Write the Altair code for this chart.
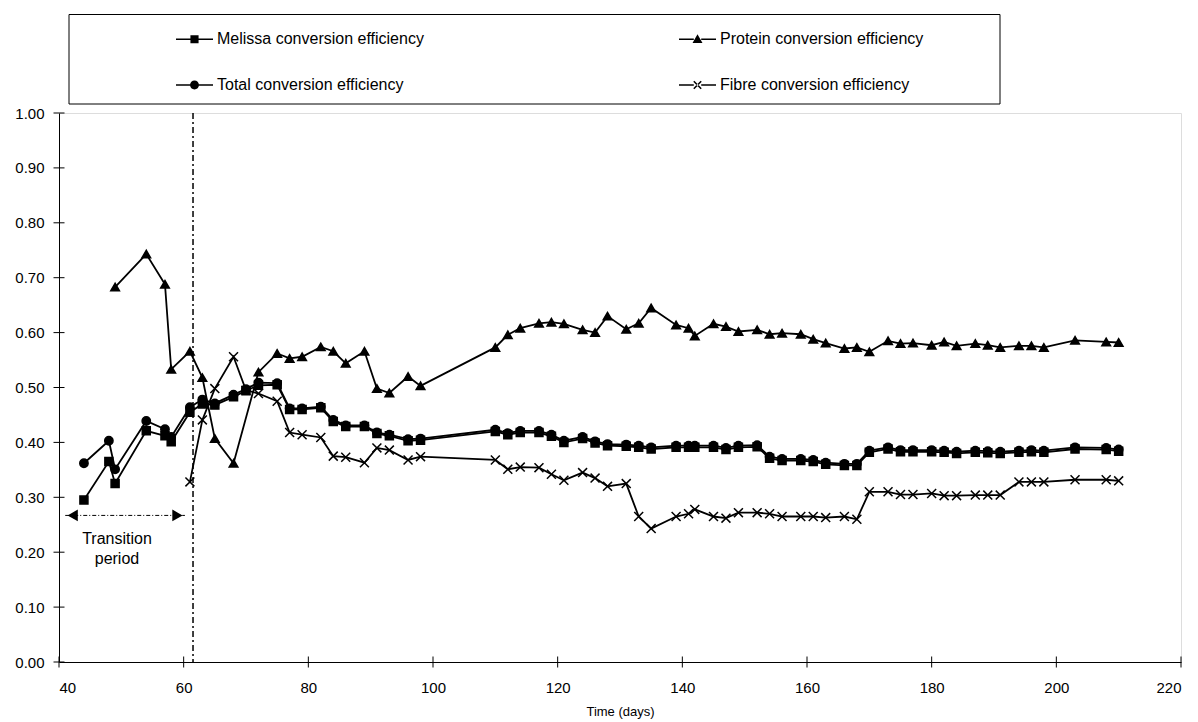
import altair as alt
import pandas as pd

# ---------------- data ----------------
# legend order (column-major): Melissa, Total | Protein, Fibre
series_names = [
    "Melissa conversion efficiency",
    "Total conversion efficiency",
    "Protein conversion efficiency",
    "Fibre conversion efficiency",
]

late_days = [110, 112, 114, 117, 119, 121, 124, 126, 128, 131, 133, 135, 139, 141,
             142, 145, 147, 149, 152, 154, 156, 159, 161, 163, 166, 168, 170, 173,
             175, 177, 180, 182, 184, 187, 189, 191, 194, 196, 198, 203, 208, 210]

melissa_days = [44, 48, 49, 54, 57, 58, 61, 63, 65, 68, 70, 72, 75, 77, 79, 82, 84,
                86, 89, 91, 93, 96, 98] + late_days
melissa_vals = [0.295, 0.365, 0.325, 0.421, 0.412, 0.401, 0.455, 0.470, 0.468, 0.483,
                0.494, 0.504, 0.505, 0.460, 0.460, 0.463, 0.438, 0.429, 0.429, 0.416,
                0.412, 0.403, 0.404,
                0.420, 0.414, 0.418, 0.418, 0.411, 0.400, 0.407, 0.399, 0.394, 0.393,
                0.391, 0.388, 0.391, 0.391, 0.391, 0.391, 0.387, 0.391, 0.392, 0.371,
                0.367, 0.367, 0.365, 0.360, 0.358, 0.358, 0.382, 0.388, 0.383, 0.383,
                0.383, 0.382, 0.380, 0.382, 0.381, 0.380, 0.382, 0.383, 0.382, 0.388,
                0.387, 0.384]

total_days = list(melissa_days)
total_vals = [0.362, 0.403, 0.351, 0.439, 0.424, 0.410, 0.464, 0.478, 0.471, 0.487,
              0.497, 0.509, 0.508, 0.462, 0.462, 0.465, 0.441, 0.431, 0.431, 0.418,
              0.414, 0.406, 0.407,
              0.423, 0.417, 0.421, 0.421, 0.414, 0.403, 0.410, 0.402, 0.397, 0.396,
              0.394, 0.391, 0.394, 0.394, 0.394, 0.394, 0.390, 0.394, 0.395, 0.374,
              0.370, 0.370, 0.368, 0.363, 0.361, 0.361, 0.385, 0.391, 0.386, 0.386,
              0.386, 0.385, 0.383, 0.385, 0.384, 0.383, 0.385, 0.386, 0.385, 0.391,
              0.390, 0.387]

protein_days = [49, 54, 57, 58, 61, 63, 65, 68, 72, 75, 77, 79, 82, 84, 86, 89, 91,
                93, 96, 98] + late_days
protein_vals = [0.683, 0.743, 0.688, 0.533, 0.566, 0.518, 0.407, 0.362, 0.528, 0.562,
                0.553, 0.556, 0.574, 0.566, 0.544, 0.566, 0.498, 0.490, 0.520, 0.503,
                0.573, 0.596, 0.608, 0.617, 0.619, 0.616, 0.605, 0.600, 0.630, 0.606,
                0.617, 0.645, 0.614, 0.608, 0.594, 0.616, 0.611, 0.602, 0.605, 0.597,
                0.599, 0.597, 0.588, 0.581, 0.571, 0.573, 0.565, 0.585, 0.580, 0.581,
                0.577, 0.583, 0.576, 0.580, 0.577, 0.573, 0.576, 0.576, 0.573, 0.586,
                0.583, 0.582]

fibre_days = [61, 63, 65, 68, 70, 72, 75, 77, 79, 82, 84, 86, 89, 91, 93, 96,
              98] + late_days
fibre_vals = [0.328, 0.441, 0.498, 0.556, 0.495, 0.489, 0.475, 0.418, 0.414, 0.409,
              0.375, 0.373, 0.363, 0.390, 0.386, 0.368, 0.374,
              0.368, 0.351, 0.355, 0.354, 0.342, 0.331, 0.345, 0.335, 0.320, 0.325,
              0.265, 0.243, 0.265, 0.270, 0.278, 0.265, 0.262, 0.272, 0.272, 0.270,
              0.265, 0.265, 0.265, 0.263, 0.265, 0.260, 0.310, 0.310, 0.305, 0.305,
              0.307, 0.303, 0.303, 0.304, 0.304, 0.304, 0.328, 0.328, 0.328, 0.332,
              0.332, 0.330]

x_ticks = [40, 60, 80, 100, 120, 140, 160, 180, 200, 220]
y_ticks = [0.0, 0.1, 0.2, 0.3, 0.4, 0.5, 0.6, 0.7, 0.8, 0.9, 1.0]

transition_start = [41.0]
transition_end = [60.2]
transition_level = [0.267]
transition_text = ["Transition", "period"]
transition_text_day = [49.3, 49.3]
transition_text_val = [0.224, 0.188]

end_of_transition_day = [61.5]

# ---------------- build tables ----------------
rows = []
for name, days, vals in [
    (series_names[0], melissa_days, melissa_vals),
    (series_names[1], total_days, total_vals),
    (series_names[2], protein_days, protein_vals),
    (series_names[3], fibre_days, fibre_vals),
]:
    for d, v in zip(days, vals):
        rows.append({"series": name, "day": d, "value": v})
df = pd.DataFrame(rows)

FONT = "Liberation Sans"
X_PATH = "M-1,-1L1,1M-1,1L1,-1"
marker_shapes = ["square", "circle", "triangle-up", X_PATH]
marker_sizes = [64, 80, 84, 100]

# legend symbols: filled paths only (line drawn as thin bars either side of marker)
LINE_L = "M-1,-0.045L-0.2,-0.045L-0.2,0.045L-1,0.045Z"
LINE_R = "M0.2,-0.045L1,-0.045L1,0.045L0.2,0.045Z"
legend_shapes = [
    LINE_L + LINE_R + "M-0.22,-0.22L0.22,-0.22L0.22,0.22L-0.22,0.22Z",
    LINE_L + LINE_R + "M-0.24,0A0.24,0.24 0 1,1 0.24,0A0.24,0.24 0 1,1 -0.24,0Z",
    LINE_L + LINE_R + "M0,-0.27L0.27,0.2L-0.27,0.2Z",
    LINE_L + LINE_R
    + "M-0.17,-0.23L0.23,0.17L0.17,0.23L-0.23,-0.17Z"
    + "M-0.17,0.23L0.23,-0.17L0.17,-0.23L-0.23,0.17Z",
]

x_scale = alt.Scale(domain=[40, 220], nice=False, zero=False)
y_scale = alt.Scale(domain=[0, 1], nice=False)

x_enc = alt.X(
    "day:Q",
    scale=x_scale,
    axis=alt.Axis(
        values=x_ticks, ticks=False, grid=False, labelPadding=18,
        title="Time (days)", titleFontSize=13, titleFontWeight="normal",
        titlePadding=10, labelFontSize=15, labelFont=FONT, titleFont=FONT,
        domainColor="black", labelColor="black", titleColor="black",
    ),
)
y_enc = alt.Y(
    "value:Q",
    scale=y_scale,
    axis=alt.Axis(
        values=y_ticks, format=".2f", ticks=False, grid=False, labelPadding=15,
        title=None, labelFontSize=15, labelFont=FONT, domainColor="black",
        labelColor="black",
    ),
)

base = alt.Chart(df)
lines = base.mark_line(color="black", strokeWidth=1.8).encode(
    x=x_enc, y=y_enc, detail="series:N"
)
points = base.mark_point(
    filled=True, fill="black", stroke="black", strokeWidth=1.5, opacity=1
).encode(
    x="day:Q",
    y="value:Q",
    shape=alt.Shape(
        "series:N",
        scale=alt.Scale(domain=series_names, range=marker_shapes),
        legend=None,
    ),
    size=alt.Size(
        "series:N",
        scale=alt.Scale(domain=series_names, range=marker_sizes),
        legend=None,
    ),
)

legend_df = pd.DataFrame({"series": series_names, "day": [100] * 4, "value": [-1] * 4})
legend_layer = alt.Chart(legend_df).mark_point(
    filled=True, fill="black", clip=True, opacity=1
).encode(
    x="day:Q",
    y="value:Q",
    shape=alt.Shape(
        "series:N",
        scale=alt.Scale(domain=series_names, range=legend_shapes),
        legend=alt.Legend(
            orient="none", legendX=116, legendY=-93.5, columns=2, title=None,
            symbolSize=1369, symbolFillColor="black", symbolOpacity=1,
            labelFontSize=16, labelFont=FONT, labelColor="black", labelOffset=3,
            labelLimit=600, rowPadding=18, columnPadding=252, padding=0,
        ),
    ),
)

legend_box = alt.Chart(pd.DataFrame({"k": [0]})).mark_rect(
    fill="transparent", stroke="black", strokeWidth=1
).encode(x=alt.value(10), x2=alt.value(941), y=alt.value(-98.5), y2=alt.value(-9))

# cross ticks on both axes
ytick_df = pd.DataFrame({"value": y_ticks, "day": [40] * len(y_ticks)})
yticks = alt.Chart(ytick_df).mark_point(
    shape="M-1,0L1,0", size=121, stroke="black", strokeWidth=1, filled=False, opacity=1
).encode(x="day:Q", y="value:Q")
xtick_df = pd.DataFrame({"day": x_ticks, "value": [0.0] * len(x_ticks)})
xticks = alt.Chart(xtick_df).mark_point(
    shape="M0,-1L0,1", size=121, stroke="black", strokeWidth=1, filled=False, opacity=1
).encode(x="day:Q", y="value:Q")

# end-of-transition dash-dot line
vline = alt.Chart(pd.DataFrame({"day": end_of_transition_day})).mark_rule(
    color="black", strokeWidth=1.5, strokeDash=[6, 3, 2, 3]
).encode(x="day:Q")

# transition period arrow
arrow_df = pd.DataFrame({"day": transition_start, "day2": transition_end,
                         "value": transition_level})
arrow_line = alt.Chart(arrow_df).mark_rule(
    color="black", strokeWidth=1, strokeDash=[4, 2, 1, 2]
).encode(x="day:Q", x2="day2:Q", y="value:Q")
heads_df = pd.DataFrame({
    "day": [transition_start[0] + 1.2, transition_end[0] - 1.2],
    "value": transition_level * 2,
    "dir": ["left", "right"],
})
heads = alt.Chart(heads_df).mark_point(filled=True, fill="black", size=140, opacity=1).encode(
    x="day:Q", y="value:Q",
    shape=alt.Shape("dir:N", scale=alt.Scale(domain=["left", "right"],
                                             range=["triangle-left", "triangle-right"]),
                    legend=None),
)
text_df = pd.DataFrame({"day": transition_text_day, "value": transition_text_val,
                        "label": transition_text})
texts = alt.Chart(text_df).mark_text(
    font=FONT, fontSize=16, color="black", align="center", baseline="middle"
).encode(x="day:Q", y="value:Q", text="label:N")

chart = alt.layer(
    legend_box, vline, arrow_line, heads, texts, lines, points, legend_layer,
    yticks, xticks,
).resolve_scale(shape="independent", size="independent").properties(
    width=1122, height=549,
    autosize=alt.AutoSizeParams(type="none"),
    padding={"left": 59, "top": 113, "right": 17, "bottom": 60},
    background="white",
).configure_view(stroke="black", strokeWidth=1).configure(font=FONT)

chart.save("out.html", embed_options={"renderer": "svg", "actions": False})
